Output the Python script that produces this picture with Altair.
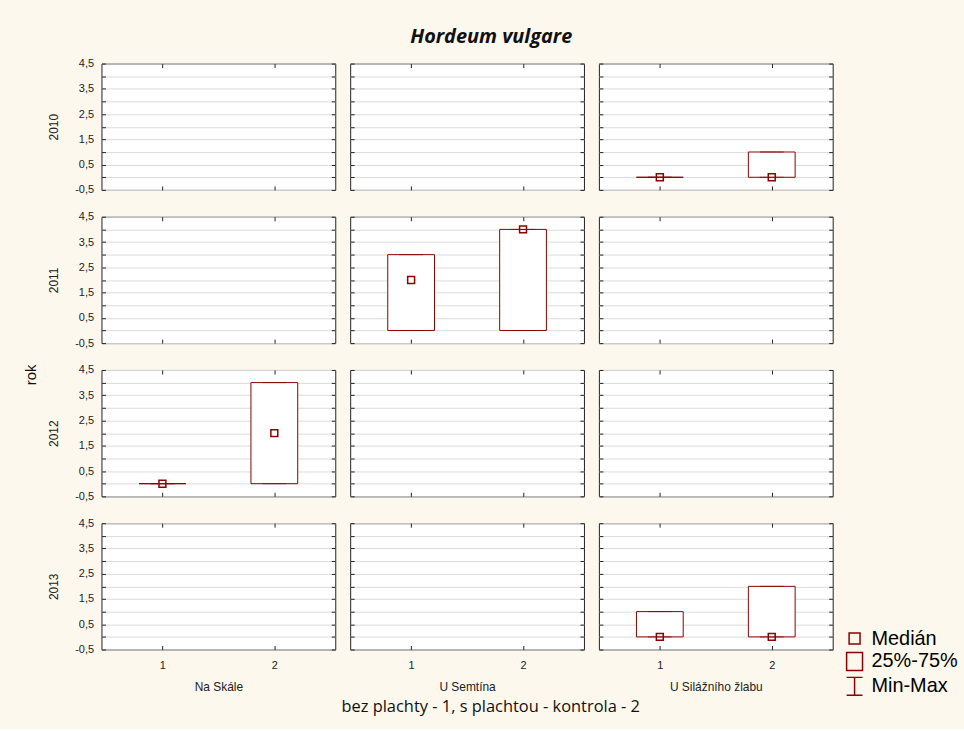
import altair as alt
import pandas as pd

# Facet levels
years = ["2010", "2011", "2012", "2013"]
sites = ["Na Skále", "U Semtína", "U Silážního žlabu"]

# One record per box: year, locality, treatment group and its summary statistics
rec_year = ["2010", "2010", "2011", "2011", "2012", "2012", "2013", "2013"]
rec_site = ["U Silážního žlabu", "U Silážního žlabu", "U Semtína", "U Semtína",
            "Na Skále", "Na Skále", "U Silážního žlabu", "U Silážního žlabu"]
rec_group = [1, 2, 1, 2, 1, 2, 1, 2]
medians = [0, 0, 2, 4, 0, 2, 0, 0]
q25 = [0, 0, 0, 0, 0, 0, 0, 0]
q75 = [0, 1, 3, 4, 0, 4, 1, 2]
mins = [0, 0, 0, 0, 0, 0, 0, 0]
maxs = [0, 1, 3, 4, 0, 4, 1, 2]

# Axis ticks and legend entries
y_ticks = [-0.5, 0, 0.5, 1, 1.5, 2, 2.5, 3, 3.5, 4, 4.5]
x_ticks = [1, 2]
legend_items = ["Medián", "25%-75%", "Min-Max"]

df = pd.DataFrame({
    "rok": rec_year, "lokalita": rec_site, "grp": rec_group,
    "median": medians, "q25": q25, "q75": q75, "min": mins, "max": maxs,
})

W, H = 235, 127
RED = "#8b0000"
FONT = "Liberation Sans"

# symbol outlines (unit coordinates) for median marker and legend
MEDIAN_PATH = "M-0.55,-0.55H0.55V0.55H-0.55Z"
BOX_PATH = "M-0.8,-0.9H0.8V0.9H-0.8Z"
RANGE_PATH = "M-0.8,-0.9H0.8M0,-0.9V0.9M-0.8,0.9H0.8"

ys = alt.Scale(domain=[-0.5, 4.5], nice=False, zero=False)
xs = alt.Scale(domain=[0.5, 2.5], nice=False, zero=False)

label_expr = ("(datum.value * 2) % 2 != 0 ? "
              "replace(replace(format(datum.value, '.1f'), '.', ','), '\u2212', '-') : ''")


def inward(orient, values, offset):
    return alt.Axis(orient=orient, offset=offset, values=values, grid=False,
                    labels=False, domain=False, ticks=True, tickSize=4,
                    tickColor="#222", title=None)


def panel(year, site, left, bottom, legend):
    base = alt.Chart(df).transform_filter(
        (alt.datum.rok == year) & (alt.datum.lokalita == site)
    )
    main_y = alt.Axis(values=y_ticks, grid=True, gridColor="#dcdcdc", ticks=False,
                      tickSize=0, domain=False, labels=left, labelExpr=label_expr,
                      labelPadding=8, title=year if left else None, titlePadding=14)
    main_x = alt.Axis(values=x_ticks, grid=False, ticks=False, tickSize=0,
                      domain=False, labels=bottom, format="d", labelPadding=10,
                      title=site if bottom else None, titlePadding=11)

    box = base.mark_bar(size=47, fill="white", stroke=RED, strokeWidth=1).encode(
        x=alt.X("grp:Q", scale=xs, axis=main_x),
        y=alt.Y("q25:Q", scale=ys, axis=main_y),
        y2="q75:Q",
    )
    upper = base.mark_rule(color=RED).encode(
        x=alt.X("grp:Q", scale=xs, axis=None),
        y=alt.Y("q75:Q", scale=ys, axis=None),
        y2="max:Q",
    )
    lower = base.mark_rule(color=RED).encode(
        x=alt.X("grp:Q", scale=xs, axis=None),
        y=alt.Y("min:Q", scale=ys, axis=None),
        y2="q25:Q",
    )
    cap_max = base.mark_tick(orient="horizontal", size=24, thickness=1, color=RED).encode(
        x=alt.X("grp:Q", scale=xs, axis=inward("top", x_ticks, -H)),
        y=alt.Y("max:Q", scale=ys, axis=inward("right", y_ticks, -W)),
    )
    cap_min = base.mark_tick(orient="horizontal", size=24, thickness=1, color=RED).encode(
        x=alt.X("grp:Q", scale=xs, axis=inward("bottom", x_ticks, -H)),
        y=alt.Y("min:Q", scale=ys, axis=inward("left", y_ticks, -W)),
    )
    if legend:
        med = base.transform_calculate(item="'Medián'").mark_point(
            size=160, filled=False, color=RED, strokeWidth=1.5, opacity=1
        ).encode(
            x=alt.X("grp:Q", scale=xs, axis=None),
            y=alt.Y("median:Q", scale=ys, axis=None),
            shape=alt.Shape(
                "item:N",
                scale=alt.Scale(domain=legend_items, range=[MEDIAN_PATH, BOX_PATH, RANGE_PATH]),
                legend=alt.Legend(orient="none", legendX=746, legendY=567, title=None,
                                  symbolSize=400, symbolStrokeWidth=1.5,
                                  symbolStrokeColor=RED, symbolFillColor="transparent",
                                  labelFont=FONT, labelFontSize=20, labelColor="black",
                                  labelOffset=6, rowPadding=1, padding=0),
            ),
        )
    else:
        med = base.mark_point(
            shape=MEDIAN_PATH, size=160, filled=False, color=RED, strokeWidth=1.5, opacity=1
        ).encode(
            x=alt.X("grp:Q", scale=xs, axis=None),
            y=alt.Y("median:Q", scale=ys, axis=None),
        )
    return alt.layer(box, upper, lower, cap_max, cap_min, med).resolve_axis(
        x="independent", y="independent"
    ).properties(width=W, height=H)


rows = []
for ri, yr in enumerate(years):
    cells = [panel(yr, st, ci == 0, ri == len(years) - 1,
                   ri == len(years) - 1 and ci == len(sites) - 1)
             for ci, st in enumerate(sites)]
    rows.append(alt.hconcat(*cells, spacing=13))

grid = alt.vconcat(*rows, spacing=14).properties(
    title=alt.TitleParams("rok", orient="left", anchor="middle", font=FONT, fontSize=15,
                          fontWeight="normal", color="#111", offset=8)
)
middle = alt.vconcat(grid).properties(
    title=alt.TitleParams("bez plachty  - 1, s plachtou - kontrola - 2", orient="bottom",
                          anchor="middle", font="Open Sans", fontSize=16.5,
                          fontWeight="normal", color="#111", offset=6, dx=62)
)
chart = alt.vconcat(middle).properties(
    title=alt.TitleParams("Hordeum vulgare", font="Open Sans", fontSize=20,
                          fontWeight="bold", fontStyle="italic", color="#111",
                          anchor="middle", offset=10),
    padding={"left": 24, "top": 25, "right": 6, "bottom": 12},
    background="#fdf8ed",
).configure_view(
    fill="white", stroke="#222", strokeWidth=1
).configure_axis(
    labelFont=FONT, labelFontSize=11, labelColor="#222",
    titleFont=FONT, titleFontSize=12, titleFontWeight="normal", titleColor="#222",
)

chart.save("out.html", embed_options={"renderer": "svg", "actions": False})
